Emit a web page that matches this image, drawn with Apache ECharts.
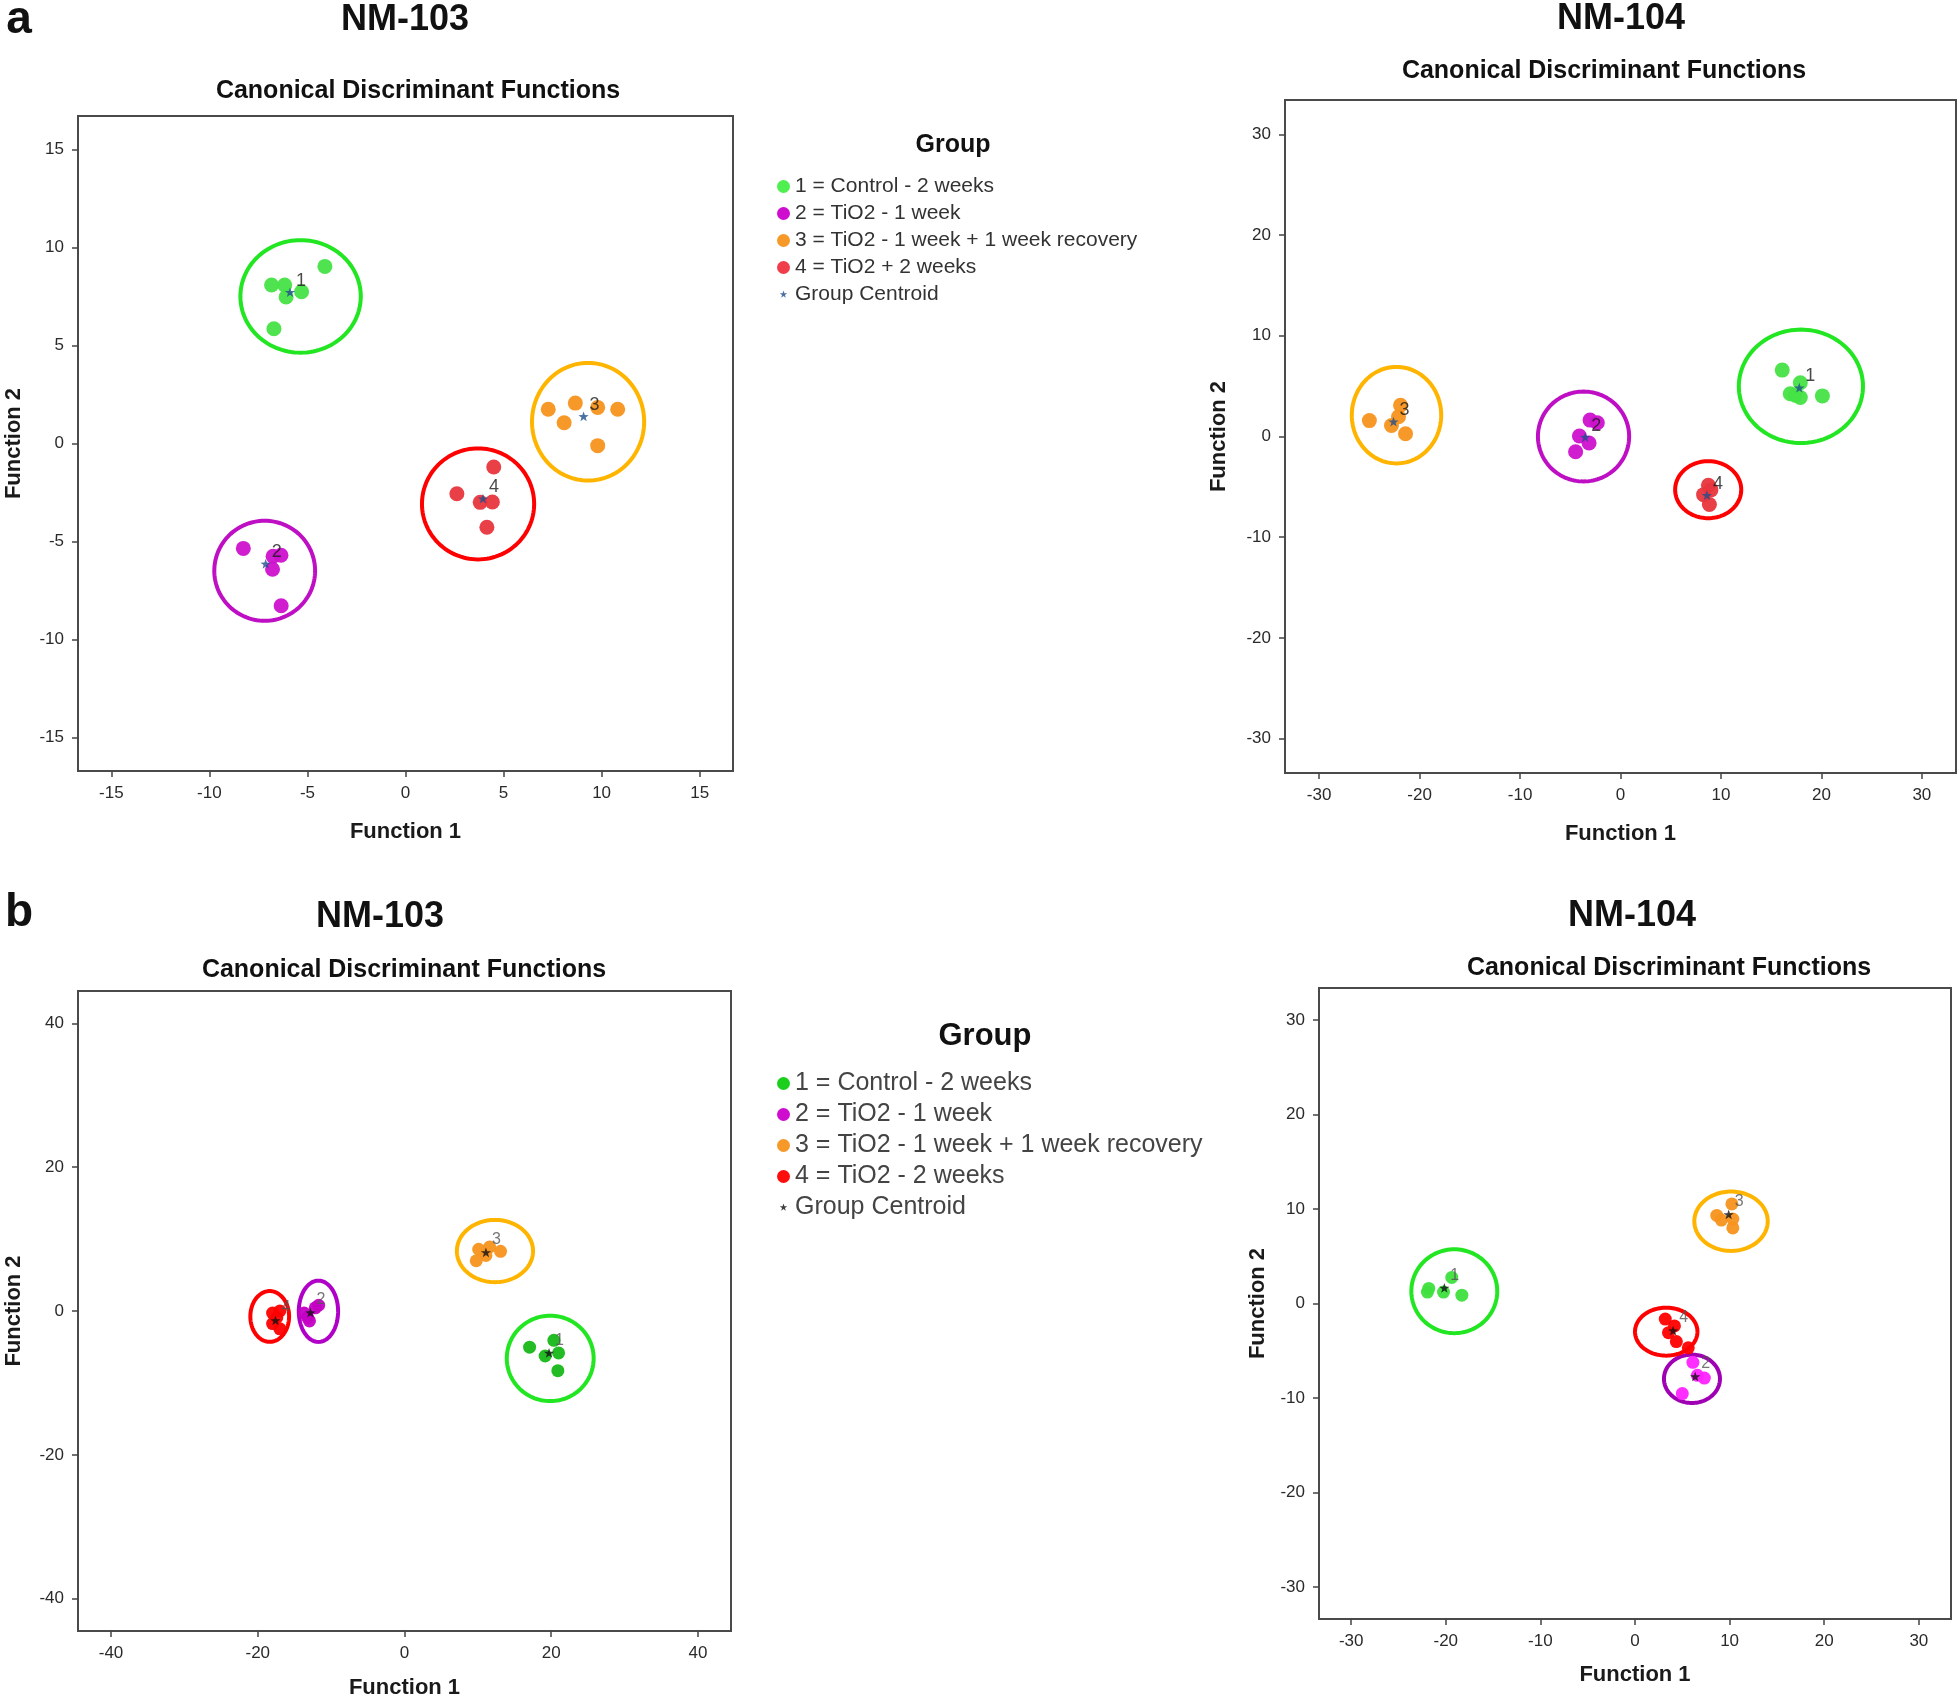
<!DOCTYPE html>
<html>
<head>
<meta charset="utf-8">
<title>Canonical Discriminant Functions</title>
<script src="https://cdn.jsdelivr.net/npm/echarts@6.0.0/dist/echarts.min.js"></script>
<style>
  html, body { margin: 0; padding: 0; background: #fff; }
  #chart { width: 1959px; height: 1700px; }
</style>
</head>
<body>
<div id="chart"></div>
<script>
  // legend text of the groups
  var groupNamesA = ['1 = Control - 2 weeks', '2 = TiO2 - 1 week', '3 = TiO2 - 1 week + 1 week recovery', '4 = TiO2 + 2 weeks'];
  var groupNamesB = ['1 = Control - 2 weeks', '2 = TiO2 - 1 week', '3 = TiO2 - 1 week + 1 week recovery', '4 = TiO2 - 2 weeks'];
  var groupLabels = ['1', '2', '3', '4'];
  var centroidName = 'Group Centroid';

  // a / NM-103 : [function 1, function 2] per case, one list per group
  var a103Points = [
    [[-6.83, 8.08], [-6.16, 8.08], [-6.09, 7.47], [-5.30, 7.74], [-4.11, 9.03], [-6.71, 5.85]],
    [[-8.27, -5.35], [-6.75, -5.75], [-6.35, -5.70], [-6.78, -6.41], [-6.34, -8.27]],
    [[7.28, 1.75], [8.66, 2.06], [9.80, 1.84], [10.82, 1.75], [8.09, 1.06], [9.80, -0.11]],
    [[2.62, -2.56], [3.81, -3.00], [4.43, -2.98], [4.50, -1.20], [4.15, -4.27]]
  ];
  var a103Centroids = [[-5.89, 7.69], [-7.13, -6.16], [9.08, 1.36], [3.95, -2.84]];
  // group circles: [centre f1, centre f2, radius f1, radius f2]
  var a103Circles = [[-5.35, 7.50, 3.07, 2.87], [-7.18, -6.49, 2.57, 2.55], [9.31, 1.11, 2.86, 3.00], [3.70, -3.08, 2.86, 2.83]];

  // a / NM-104
  var a104Points = [
    [[16.1, 6.59], [17.9, 5.33], [16.9, 4.25], [17.9, 3.87], [17.4, 4.10], [20.1, 4.03]],
    [[-3.03, 1.63], [-2.31, 1.36], [-4.09, 0.05], [-3.13, -0.65], [-4.47, -1.52]],
    [[-25.0, 1.58], [-21.9, 3.10], [-22.1, 1.96], [-22.8, 1.09], [-21.4, 0.27]],
    [[8.75, -4.84], [8.27, -5.77], [8.85, -6.75], [9.00, -5.30]]
  ];
  var a104Centroids = [[17.8, 4.79], [-3.51, -0.11], [-22.6, 1.42], [8.6, -5.88]];
  var a104Circles = [[17.96, 4.98, 6.18, 5.63], [-3.68, 0.0, 4.54, 4.46], [-22.3, 2.12, 4.45, 4.79], [8.73, -5.28, 3.29, 2.83]];

  // b / NM-103
  var b103Points = [
    [[17.05, -5.03], [20.36, -4.08], [19.17, -6.26], [21.0, -5.83], [20.9, -8.30]],
    [[-13.68, -0.29], [-12.16, 0.44], [-12.95, -1.38], [-11.7, 0.80], [-13.2, -0.90]],
    [[10.11, 8.59], [11.10, 7.72], [9.78, 6.99], [13.09, 8.30], [11.6, 8.90]],
    [[-17.98, -0.29], [-16.99, 0.0], [-17.98, -1.75], [-16.99, -2.48], [-17.4, -0.90]]
  ];
  var b103Centroids = [[19.7, -5.9], [-12.82, -0.29], [11.1, 8.08], [-17.58, -1.38]];
  var b103Circles = [[19.86, -6.59, 5.92, 5.94], [-11.73, -0.04, 2.68, 4.26], [12.33, 8.34, 5.19, 4.33], [-18.37, -0.76, 2.64, 3.53]];

  // b / NM-104
  var b104Points = [
    [[-21.94, 1.21], [-21.8, 1.60], [-20.24, 1.21], [-19.37, 2.76], [-18.30, 0.88]],
    [[6.12, -6.23], [7.33, -7.89], [5.00, -9.54], [6.60, -7.60]],
    [[8.64, 9.32], [9.13, 8.83], [10.24, 10.54], [10.34, 8.94], [10.34, 8.00]],
    [[3.20, -1.65], [4.17, -2.37], [3.54, -3.09], [4.37, -4.03], [5.63, -4.69]]
  ];
  var b104Centroids = [[-20.15, 1.6], [6.36, -7.78], [9.9, 9.38], [4.03, -2.92]];
  var b104Circles = [[-19.1, 1.3, 4.54, 4.44], [6.02, -7.97, 2.96, 2.56], [10.15, 8.71, 3.88, 3.14], [3.3, -2.98, 3.3, 2.54]];

  // axis ticks
  var ticks15 = [-15, -10, -5, 0, 5, 10, 15];
  var ticks30 = [-30, -20, -10, 0, 10, 20, 30];
  var ticks40 = [-40, -20, 0, 20, 40];

  // star symbol (the empty moves keep some padding round the star)
  var starPath = 'path://M0 0L0 0M100 100L100 100M50 20L57.05 40.29L78.53 40.73L61.41 53.71L67.63 74.27L50 62L32.37 74.27L38.59 53.71L21.47 40.73L42.95 40.29Z';

  var font = '"Liberation Sans", Arial, sans-serif';

  var panels = [
    {
      points: a103Points, centroids: a103Centroids, circles: a103Circles, names: groupNamesA,
      ticks: ticks15, lim: 16.7,
      grid: { left: 78, top: 116, width: 655, height: 655 }, xGap: 50, yGap: 53,
      dot: ['#46e346', '#cc11cc', '#f7941d', '#e8363e'],
      ring: ['#22e622', '#bf0fc4', '#ffb400', '#ff0000'],
      star: '#1f4e8c', labelColor: '#1a1a1a', labelSize: 18, dotSize: 15
    },
    {
      points: a104Points, centroids: a104Centroids, circles: a104Circles, names: groupNamesA,
      ticks: ticks30, lim: 33.4,
      grid: { left: 1285, top: 100, width: 671, height: 673 }, xGap: 50, yGap: 55,
      dot: ['#46e346', '#cc11cc', '#f7941d', '#e8363e'],
      ring: ['#22e622', '#bf0fc4', '#ffb400', '#ff0000'],
      star: '#1f4e8c', labelColor: '#1a1a1a', labelSize: 18, dotSize: 15
    },
    {
      points: b103Points, centroids: b103Centroids, circles: b103Circles, names: groupNamesB,
      ticks: ticks40, lim: 44.5,
      grid: { left: 78, top: 991, width: 653, height: 640 }, xGap: 46, yGap: 53,
      dot: ['#18b818', '#c400c4', '#f7941d', '#ff0000'],
      ring: ['#22e622', '#b000c8', '#ffb400', '#ff0000'],
      star: '#111', labelColor: '#555', labelSize: 16, dotSize: 13
    },
    {
      points: b104Points, centroids: b104Centroids, circles: b104Circles, names: groupNamesB,
      ticks: ticks30, lim: 33.4,
      grid: { left: 1319, top: 988, width: 632, height: 631 }, xGap: 45, yGap: 50,
      dot: ['#3ee03e', '#ff22ff', '#f7941d', '#ff0000'],
      ring: ['#22e622', '#a000b4', '#ffb400', '#ff0000'],
      star: '#111', labelColor: '#555', labelSize: 16, dotSize: 13
    }
  ];

  var grids = [], xAxes = [], yAxes = [], series = [];

  function axisOpt(p, i, name, gap) {
    return {
      type: 'value',
      gridIndex: i,
      min: -p.lim,
      max: p.lim,
      name: name,
      nameLocation: 'middle',
      nameGap: gap,
      nameTextStyle: { fontFamily: font, fontSize: 22, fontWeight: 'bold', color: '#1a1a1a' },
      splitLine: { show: false },
      axisLine: { show: false, onZero: false },
      axisTick: { show: true, inside: false, length: 6, customValues: p.ticks, lineStyle: { color: '#444', width: 1.5 } },
      axisLabel: { customValues: p.ticks, margin: 14, fontFamily: font, fontSize: 17, color: '#2a2a2a' }
    }
  }

  panels.forEach(function (p, i) {
    grids.push({
      left: p.grid.left, top: p.grid.top, width: p.grid.width, height: p.grid.height,
      show: true, borderColor: '#4a4a4a', borderWidth: 2, backgroundColor: 'transparent'
    })
    xAxes.push(axisOpt(p, i, 'Function 1', p.xGap))
    yAxes.push(axisOpt(p, i, 'Function 2', p.yGap))

    // group circles
    series.push({
      type: 'custom',
      xAxisIndex: i,
      yAxisIndex: i,
      silent: true,
      clip: false,
      z: 1,
      encode: { x: 0, y: 1 },
      data: p.circles.map(function (c, g) { return [c[0], c[1], c[2], c[3], g] }),
      renderItem: function (params, api) {
        var cx = api.value(0), cy = api.value(1), rx = api.value(2), ry = api.value(3)
        var pts = []
        for (var k = 0; k < 120; k++) {
          var t = k / 120 * Math.PI * 2
          pts.push(api.coord([cx + rx * Math.cos(t), cy + ry * Math.sin(t)]))
        }
        return {
          type: 'polygon',
          shape: { points: pts },
          style: { fill: 'none', stroke: p.ring[api.value(4)], lineWidth: 4 }
        }
      }
    })

    // cases of each group
    p.points.forEach(function (pts, g) {
      series.push({
        type: 'scatter',
        name: p.names[g],
        xAxisIndex: i,
        yAxisIndex: i,
        z: 2,
        symbol: 'circle',
        symbolSize: p.dotSize,
        itemStyle: { color: p.dot[g], opacity: 0.95 },
        data: pts
      })
    })

    // group centroids
    series.push({
      type: 'scatter',
      name: centroidName,
      xAxisIndex: i,
      yAxisIndex: i,
      z: 3,
      symbol: starPath,
      symbolSize: 18,
      itemStyle: { color: p.star },
      label: {
        show: true,
        position: [15, -12],
        formatter: function (param) { return groupLabels[param.dataIndex] },
        fontFamily: font,
        fontSize: p.labelSize,
        color: p.labelColor
      },
      data: p.centroids
    })
  })

  function legendData(names, colors, star) {
    var out = names.map(function (n, g) {
      return { name: n, icon: 'circle', itemStyle: { color: colors[g] } }
    })
    out.push({ name: centroidName, icon: starPath, itemStyle: { color: star } })
    return out
  }

  function heading(text, x, y, size) {
    return {
      type: 'text',
      x: x,
      y: y,
      style: {
        text: text,
        fill: '#111',
        font: 'bold ' + size + 'px ' + font,
        textAlign: 'center',
        textVerticalAlign: 'middle',
        align: 'center',
        verticalAlign: 'middle'
      }
    }
  }

  var chart = echarts.init(document.getElementById('chart'))
  chart.setOption({
    animation: false,
    backgroundColor: '#fff',
    grid: grids,
    xAxis: xAxes,
    yAxis: yAxes,
    legend: [
      {
        orient: 'vertical',
        left: 772,
        top: 171,
        itemWidth: 13,
        itemHeight: 13,
        itemGap: 6,
        selectedMode: false,
        textStyle: { fontFamily: font, fontSize: 21, lineHeight: 20, color: '#333' },
        data: legendData(groupNamesA, ['#44ee44', '#cc00cc', '#f7941d', '#ee3340'], '#1f4e8c')
      },
      {
        orient: 'vertical',
        left: 772,
        top: 1066,
        itemWidth: 13,
        itemHeight: 13,
        itemGap: 6,
        selectedMode: false,
        textStyle: { fontFamily: font, fontSize: 25, lineHeight: 25, color: '#444' },
        data: legendData(groupNamesB, ['#11cc11', '#cc00cc', '#f7941d', '#ff0000'], '#111')
      }
    ],
    graphic: [
      heading('a', 19, 20, 46),
      heading('NM-103', 405, 20, 36),
      heading('NM-104', 1621, 19, 36),
      heading('Canonical Discriminant Functions', 418, 91, 25),
      heading('Canonical Discriminant Functions', 1604, 71, 25),
      heading('Group', 953, 145, 25),
      heading('b', 19, 913, 46),
      heading('NM-103', 380, 917, 36),
      heading('NM-104', 1632, 916, 36),
      heading('Canonical Discriminant Functions', 404, 970, 25),
      heading('Canonical Discriminant Functions', 1669, 968, 25),
      heading('Group', 985, 1036, 31)
    ],
    series: series
  })
</script>
</body>
</html>
